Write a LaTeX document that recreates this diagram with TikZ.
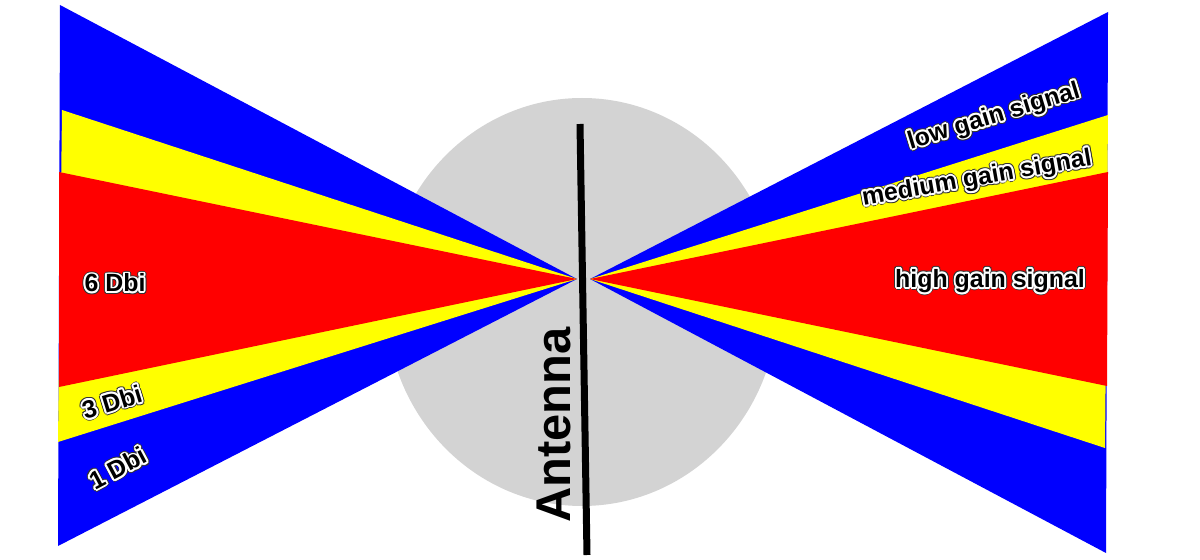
\documentclass[tikz,border=0pt]{standalone}
\usepackage{fontspec}
\setmainfont{Liberation Sans}
\usetikzlibrary{calc}
\definecolor{beamblue}{RGB}{0,0,255}
\definecolor{beamyellow}{RGB}{255,255,0}
\definecolor{beamred}{RGB}{255,0,0}
\definecolor{discgray}{RGB}{211,211,211}
\tikzset{
  lbl/.style={inner sep=0pt, font=\fontsize{25}{29}\selectfont\bfseries},
}
\newcommand\halolabel[4]{%
  \foreach \a in {0,30,...,330}{\node[lbl,rotate=#3,text=black!80] at ($(#2)+(\a:2.9bp)$) {#4};}
  \foreach \a in {0,30,...,330}{\node[lbl,rotate=#3,text=white] at ($(#2)+(\a:1.9bp)$) {#4};}
  \node[lbl,rotate=#3,text=black] (#1) at (#2) {#4};
}
\begin{document}
\begin{tikzpicture}[x=1bp,y=-1bp]
\useasboundingbox[fill=white] (0,0) rectangle (1200,560);
% disc
\fill[discgray] (582,302) ellipse [x radius=196, y radius=204];
% left beams
\coordinate (la) at (577,279);
\fill[beamblue]   (60,5)   -- (58,546) -- (la) -- cycle;
\fill[beamyellow] (62,110) -- (58,442) -- (la) -- cycle;
\fill[beamred]    (59,172) -- (59,387) -- (la) -- cycle;
% right beams
\coordinate (ra) at (590,279);
\fill[beamblue]   (1108,12)  -- (1106,553) -- (ra) -- cycle;
\fill[beamyellow] (1108,115) -- (1105,448) -- (ra) -- cycle;
\fill[beamred]    (1108,172) -- (1107,386) -- (ra) -- cycle;
% antenna
\coordinate (atop) at (580,124);
\coordinate (abot) at (587,555);
\draw[line width=7bp] (atop) -- (abot);
\node[inner sep=0pt, rotate=90, anchor=base west,
      font=\fontsize{49}{56}\selectfont\bfseries] (antenna) at (570,523) {Antenna};
% labels
\halolabel{six}{115,283}{0}{6 Dbi}
\halolabel{three}{112,402}{17}{3 Dbi}
\halolabel{one}{118,468}{28}{1 Dbi}
\halolabel{low}{994,117}{17}{low gain signal}
\halolabel{med}{977,179}{10}{medium gain signal}
\halolabel{high}{990,281}{0}{high gain signal}
\end{tikzpicture}
\end{document}
